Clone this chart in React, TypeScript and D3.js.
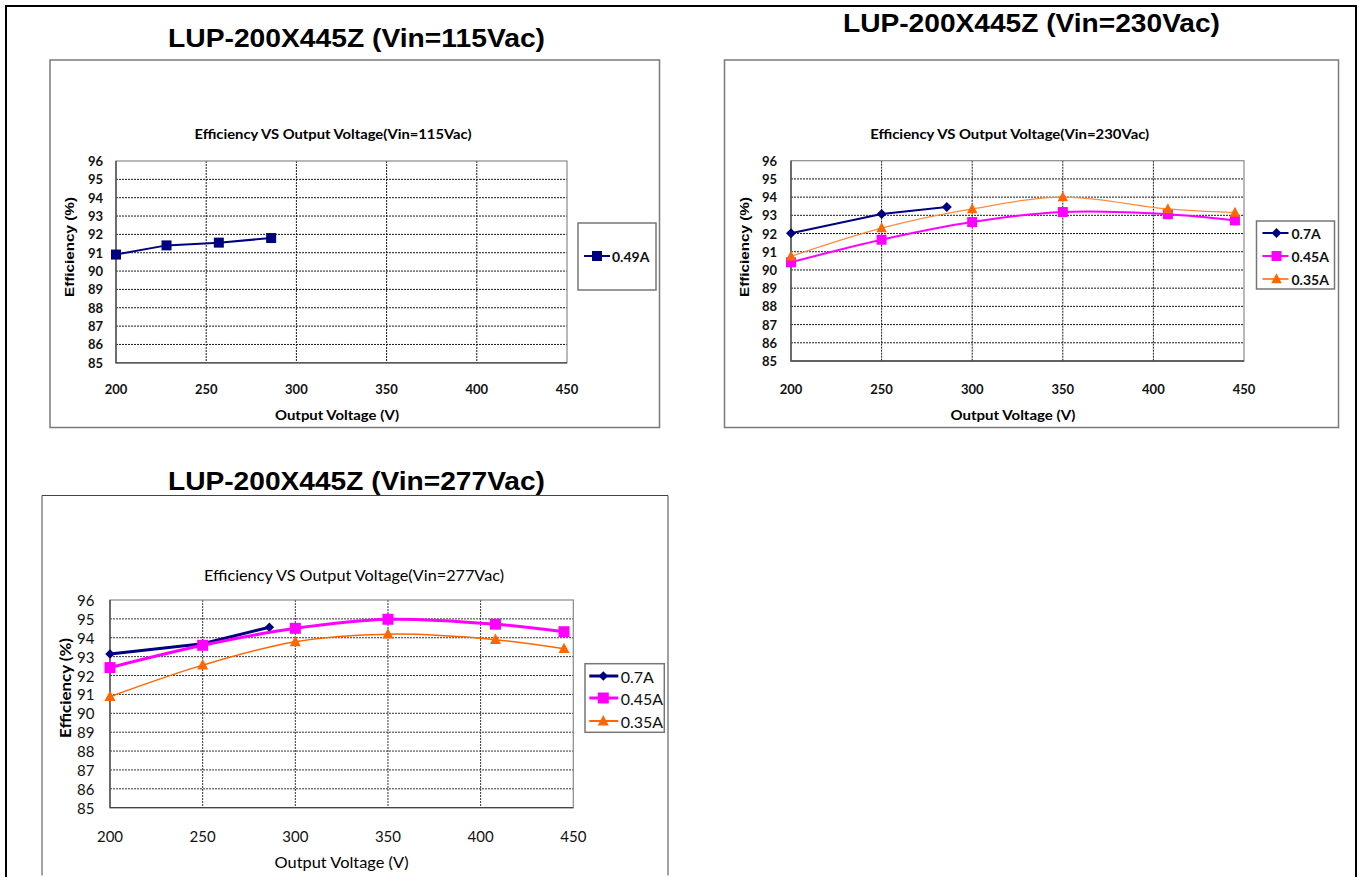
import React from 'react';
import * as d3 from 'd3';

// ---------- data ----------
const X_TICKS = [200, 250, 300, 350, 400, 450];
const Y_TICKS = [85, 86, 87, 88, 89, 90, 91, 92, 93, 94, 95, 96];

const PAGE_TITLES = ['LUP-200X445Z (Vin=115Vac)', 'LUP-200X445Z (Vin=230Vac)', 'LUP-200X445Z (Vin=277Vac)'];
const CHART_TITLES = [
  'Efficiency VS Output Voltage(Vin=115Vac)',
  'Efficiency VS Output Voltage(Vin=230Vac)',
  'Efficiency VS Output Voltage(Vin=277Vac)',
];
const X_TITLE = 'Output Voltage (V)';
const Y_TITLE = 'Efficiency (%)';

const VOUT_115 = [200, 228, 257, 286];
const EFF_115_049 = [90.9, 91.4, 91.55, 91.8];

const VOUT_07 = [200, 250, 286];
const VOUT_FULL = [200, 250, 300, 350, 408, 445];

const EFF_230_07 = [92.02, 93.07, 93.46];
const EFF_230_045 = [90.42, 91.66, 92.63, 93.18, 93.06, 92.72];
const EFF_230_035 = [90.75, 92.3, 93.35, 94.0, 93.35, 93.15];

const EFF_277_07 = [93.14, 93.68, 94.56];
const EFF_277_045 = [92.42, 93.6, 94.5, 94.98, 94.72, 94.32];
const EFF_277_035 = [90.88, 92.55, 93.79, 94.19, 93.9, 93.42];

const NAMES_3 = ['0.7A', '0.45A', '0.35A'];
const NAME_1 = '0.49A';

// ---------- styles ----------
const NAVY = '#000080';
const MAGENTA = '#FF00FF';
const ORANGE = '#FF6600';

type MarkerKind = 'square' | 'diamond' | 'triangle';
type Series = {
  name: string;
  xs: number[];
  ys: number[];
  color: string;
  lineColor: string;
  width: number;
  smooth: boolean;
  marker: MarkerKind;
  msize: number;
};

function markerPath(kind: MarkerKind, s: number): string {
  const r = s / 2;
  if (kind === 'square') return `M${-r},${-r}H${r}V${r}H${-r}Z`;
  if (kind === 'diamond') return `M0,${-r}L${r},0L0,${r}L${-r},0Z`;
  return `M0,${-r * 1.1}L${r},${r * 0.8}L${-r},${r * 0.8}Z`;
}

type Layout = {
  box: { x: number; y: number; w: number; h: number; open?: boolean; stroke: string; sw: number };
  plot: { x0: number; x1: number; y0: number; y1: number };
  pageTitle: { x: number; y: number; len: number };
  title: { x: number; y: number; len: number };
  xTitle: { x: number; y: number; len: number };
  yTitle: { x: number; y: number; len: number };
  xTickY: number;
  yTickX: number;
  legend: { x: number; y: number; w: number; h: number; rows: number[]; l0: number; l1: number; m: number; t: number };
  variant: 'bold' | 'regular';
};

const BOLD_FONT = 'Lato, "Open Sans", sans-serif';
const ARIAL = '"Liberation Sans", Arial, sans-serif';

function Chart({ L, series, pageTitle, title }: { L: Layout; series: Series[]; pageTitle: string; title: string }) {
  const x = d3.scaleLinear().domain([200, 450]).range([L.plot.x0, L.plot.x1]);
  const y = d3.scaleLinear().domain([85, 96]).range([L.plot.y1, L.plot.y0]);
  const bold = L.variant === 'bold';
  const tickSize = bold ? 13 : 15;
  const tickWeight = bold ? 700 : 400;
  const gridColor = bold ? '#1a1a1a' : '#333';

  return (
    <g>
      <text
        x={L.pageTitle.x}
        y={L.pageTitle.y}
        textAnchor="middle"
        fontFamily={ARIAL}
        fontWeight={700}
        fontSize={25}
        textLength={L.pageTitle.len}
        lengthAdjust="spacingAndGlyphs"
        fill="#000"
      >
        {pageTitle}
      </text>
      {L.box.open ? (
        <path
          d={`M${L.box.x},${L.box.y + L.box.h}V${L.box.y}H${L.box.x + L.box.w}V${L.box.y + L.box.h}`}
          fill="none"
          stroke={L.box.stroke}
          strokeWidth={L.box.sw}
        />
      ) : (
        <rect x={L.box.x} y={L.box.y} width={L.box.w} height={L.box.h} fill="#fff" stroke={L.box.stroke} strokeWidth={L.box.sw} />
      )}
      <text
        x={L.title.x}
        y={L.title.y}
        textAnchor="middle"
        dominantBaseline="central"
        fontFamily={BOLD_FONT}
        fontWeight={bold ? 700 : 400}
        fontSize={bold ? 13 : 15.5}
        textLength={L.title.len}
        lengthAdjust="spacingAndGlyphs"
        fill="#000"
      >
        {title}
      </text>
      {/* grid */}
      {Y_TICKS.filter((t) => t > 85 && t < 96).map((t) => (
        <line key={'h' + t} x1={L.plot.x0} x2={L.plot.x1} y1={y(t)} y2={y(t)} stroke={gridColor} strokeWidth={1} strokeDasharray="2,1" />
      ))}
      {X_TICKS.filter((t) => t > 200 && t < 450).map((t) => (
        <line key={'v' + t} x1={x(t)} x2={x(t)} y1={L.plot.y0} y2={L.plot.y1} stroke={gridColor} strokeWidth={1} strokeDasharray="2,1" />
      ))}
      <rect
        x={L.plot.x0}
        y={L.plot.y0}
        width={L.plot.x1 - L.plot.x0}
        height={L.plot.y1 - L.plot.y0}
        fill="none"
        stroke="#8a8a8a"
        strokeWidth={1.2}
      />
      <path d={`M${L.plot.x0},${L.plot.y0}V${L.plot.y1}H${L.plot.x1}`} fill="none" stroke="#444" strokeWidth={1.3} />
      {/* tick labels */}
      {Y_TICKS.map((t) => (
        <text
          key={'yl' + t}
          x={L.yTickX}
          y={y(t)}
          textAnchor="end"
          dominantBaseline="central"
          fontFamily={BOLD_FONT}
          fontWeight={tickWeight}
          fontSize={tickSize}
          fill="#111"
        >
          {t}
        </text>
      ))}
      {X_TICKS.map((t) => (
        <text
          key={'xl' + t}
          x={x(t)}
          y={L.xTickY}
          textAnchor="middle"
          dominantBaseline="central"
          fontFamily={BOLD_FONT}
          fontWeight={tickWeight}
          fontSize={tickSize}
          fill="#111"
        >
          {t}
        </text>
      ))}
      <text
        x={L.xTitle.x}
        y={L.xTitle.y}
        textAnchor="middle"
        dominantBaseline="central"
        fontFamily={BOLD_FONT}
        fontWeight={bold ? 700 : 400}
        fontSize={bold ? 13.5 : 16}
        textLength={L.xTitle.len}
        lengthAdjust="spacingAndGlyphs"
        fill="#000"
      >
        {X_TITLE}
      </text>
      <text
        transform={`translate(${L.yTitle.x},${L.yTitle.y}) rotate(-90)`}
        textAnchor="middle"
        dominantBaseline="central"
        fontFamily={bold ? ARIAL : BOLD_FONT}
        fontWeight={700}
        fontSize={bold ? 12.5 : 15.5}
        textLength={L.yTitle.len}
        lengthAdjust="spacingAndGlyphs"
        fill="#000"
      >
        {Y_TITLE}
      </text>
      {/* series */}
      {series.map((s) => {
        const pts: [number, number][] = s.xs.map((v, i) => [x(v), y(s.ys[i])]);
        const gen = d3
          .line<[number, number]>()
          .x((d) => d[0])
          .y((d) => d[1])
          .curve(s.smooth ? d3.curveCatmullRom.alpha(0.5) : d3.curveLinear);
        return (
          <g key={s.name}>
            <path d={gen(pts) || ''} fill="none" stroke={s.lineColor} strokeWidth={s.width} strokeLinejoin="round" />
            {pts.map((p, i) => (
              <path key={i} d={markerPath(s.marker, s.msize)} transform={`translate(${p[0]},${p[1]})`} fill={s.color} />
            ))}
          </g>
        );
      })}
      {/* legend */}
      <rect x={L.legend.x} y={L.legend.y} width={L.legend.w} height={L.legend.h} fill="#fff" stroke="#777" strokeWidth={1.5} />
      {series.map((s, i) => {
        const ry = L.legend.rows[i];
        return (
          <g key={'lg' + s.name}>
            <line x1={L.legend.x + L.legend.l0} x2={L.legend.x + L.legend.l1} y1={ry} y2={ry} stroke={s.lineColor} strokeWidth={Math.max(s.width, 2)} />
            <path d={markerPath(s.marker, s.msize)} transform={`translate(${L.legend.x + L.legend.m},${ry})`} fill={s.color} />
            <text
              x={L.legend.x + L.legend.t}
              y={ry}
              dominantBaseline="central"
              fontFamily={BOLD_FONT}
              fontWeight={bold ? 700 : 400}
              fontSize={bold ? 14 : 16}
              fill="#111"
            >
              {s.name}
            </text>
          </g>
        );
      })}
    </g>
  );
}

const LAYOUT_1: Layout = {
  box: { x: 50, y: 60, w: 609.5, h: 367.5, stroke: '#7a7a7a', sw: 1.5 },
  plot: { x0: 116, x1: 567, y0: 161, y1: 362.8 },
  pageTitle: { x: 356.5, y: 47, len: 377 },
  title: { x: 333, y: 134, len: 277 },
  xTitle: { x: 337, y: 415, len: 124 },
  yTitle: { x: 70, y: 247, len: 100 },
  xTickY: 389,
  yTickX: 103,
  legend: { x: 578, y: 223, w: 78, h: 67, rows: [256], l0: 6, l1: 32, m: 19, t: 34 },
  variant: 'bold',
};

const LAYOUT_2: Layout = {
  box: { x: 724.5, y: 60, w: 614, h: 367.5, stroke: '#7a7a7a', sw: 1.5 },
  plot: { x0: 791, x1: 1244, y0: 160.7, y1: 361 },
  pageTitle: { x: 1031.5, y: 32, len: 377 },
  title: { x: 1009.7, y: 134, len: 279 },
  xTitle: { x: 1013, y: 415, len: 125 },
  yTitle: { x: 745, y: 247, len: 100 },
  xTickY: 389,
  yTickX: 777,
  legend: { x: 1256.5, y: 221, w: 78, h: 68, rows: [233, 256, 279], l0: 6, l1: 32, m: 20, t: 35 },
  variant: 'bold',
};

const LAYOUT_3: Layout = {
  box: { x: 42, y: 495.5, w: 626, h: 380, open: true, stroke: '#444', sw: 1 },
  plot: { x0: 110, x1: 573.3, y0: 600, y1: 807.7 },
  pageTitle: { x: 356.5, y: 490, len: 377 },
  title: { x: 354, y: 575, len: 300 },
  xTitle: { x: 341.6, y: 861.7, len: 134 },
  yTitle: { x: 65.3, y: 688, len: 100 },
  xTickY: 835.7,
  yTickX: 94.5,
  legend: { x: 585, y: 663.7, w: 79.3, h: 68.6, rows: [676, 698, 721], l0: 4.3, l1: 33.3, m: 18.3, t: 35.7 },
  variant: 'regular',
};

const SERIES_1: Series[] = [
  { name: NAME_1, xs: VOUT_115, ys: EFF_115_049, color: NAVY, lineColor: NAVY, width: 2, smooth: false, marker: 'square', msize: 10 },
];

const SERIES_2: Series[] = [
  { name: NAMES_3[0], xs: VOUT_07, ys: EFF_230_07, color: NAVY, lineColor: NAVY, width: 2, smooth: false, marker: 'diamond', msize: 10 },
  { name: NAMES_3[1], xs: VOUT_FULL, ys: EFF_230_045, color: MAGENTA, lineColor: MAGENTA, width: 2, smooth: true, marker: 'square', msize: 10 },
  { name: NAMES_3[2], xs: VOUT_FULL, ys: EFF_230_035, color: ORANGE, lineColor: '#FF8A3D', width: 1.2, smooth: true, marker: 'triangle', msize: 10.5 },
];

const SERIES_3: Series[] = [
  { name: NAMES_3[0], xs: VOUT_07, ys: EFF_277_07, color: NAVY, lineColor: NAVY, width: 3, smooth: false, marker: 'diamond', msize: 9.5 },
  { name: NAMES_3[1], xs: VOUT_FULL, ys: EFF_277_045, color: MAGENTA, lineColor: MAGENTA, width: 3, smooth: true, marker: 'square', msize: 11 },
  { name: NAMES_3[2], xs: VOUT_FULL, ys: EFF_277_035, color: ORANGE, lineColor: ORANGE, width: 1.5, smooth: true, marker: 'triangle', msize: 11 },
];

export default function App() {
  return (
    <svg
      width={1362}
      height={891}
      viewBox="0 0 1362 891"
      style={{ position: 'absolute', left: 0, top: 0, background: '#fff' }}
    >
      <rect x={0} y={0} width={1362} height={891} fill="#fff" />
      <path d="M6,877V6H1356V877" fill="none" stroke="#000" strokeWidth={2} />
      <Chart L={LAYOUT_1} series={SERIES_1} pageTitle={PAGE_TITLES[0]} title={CHART_TITLES[0]} />
      <Chart L={LAYOUT_2} series={SERIES_2} pageTitle={PAGE_TITLES[1]} title={CHART_TITLES[1]} />
      <Chart L={LAYOUT_3} series={SERIES_3} pageTitle={PAGE_TITLES[2]} title={CHART_TITLES[2]} />
    </svg>
  );
}
